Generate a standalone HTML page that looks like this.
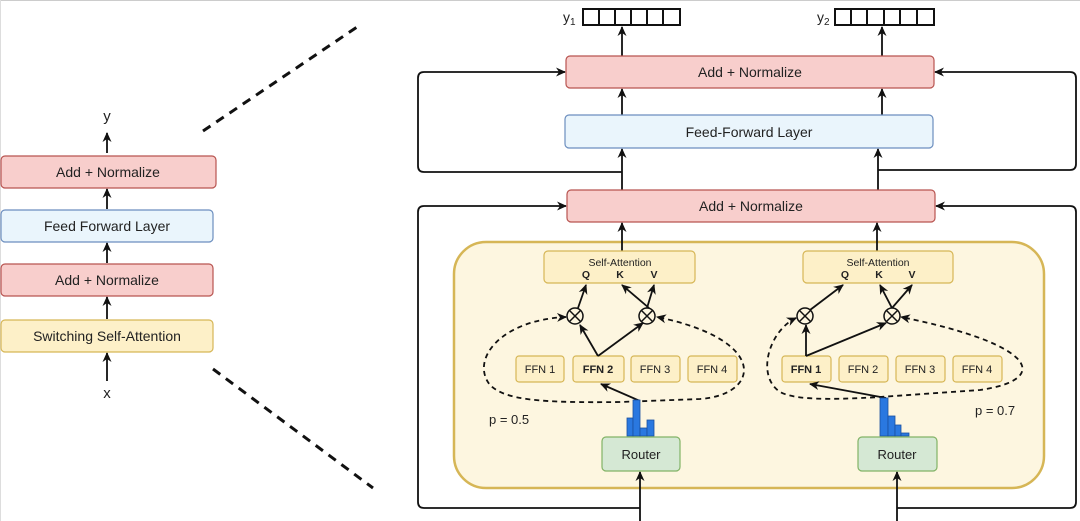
<!DOCTYPE html>
<html><head><style>body{margin:0;background:#fff}svg{display:block}text{font-family:"Liberation Sans",sans-serif;fill:#222}</style></head><body>
<svg width="1080" height="521" viewBox="0 0 1080 521" xmlns="http://www.w3.org/2000/svg">
<defs>
<marker id="a" markerWidth="12" markerHeight="12" refX="9" refY="5.5" orient="auto-start-reverse" markerUnits="userSpaceOnUse"><path d="M0,1 L10,5.5 L0,10 L3,5.5 z" fill="#111"/></marker>
</defs>
<line x1="0" y1="0.5" x2="1080" y2="0.5" stroke="#ccc"/>
<line x1="0.5" y1="0" x2="0.5" y2="521" stroke="#ddd"/>
<g stroke="#111" stroke-width="1.8" fill="none">
<line x1="107" y1="153" x2="107" y2="133" marker-end="url(#a)"/>
<line x1="107" y1="209" x2="107" y2="189" marker-end="url(#a)"/>
<line x1="107" y1="263" x2="107" y2="243" marker-end="url(#a)"/>
<line x1="107" y1="319" x2="107" y2="297" marker-end="url(#a)"/>
<line x1="107" y1="381" x2="107" y2="353" marker-end="url(#a)"/>
<line x1="203" y1="131" x2="360" y2="25" stroke-width="3" stroke-dasharray="9,7"/>
<line x1="213" y1="369" x2="373" y2="488" stroke-width="3" stroke-dasharray="9,7"/>
</g>
<rect x="1" y="156" width="215" height="32" rx="4" fill="#f8cecc" stroke="#b85450" stroke-width="1.2"/>
<text x="108" y="177" font-size="14" text-anchor="middle">Add + Normalize</text>
<rect x="1" y="210" width="212" height="32" rx="4" fill="#eaf5fc" stroke="#6c8ebf" stroke-width="1.2"/>
<text x="107" y="231" font-size="14" text-anchor="middle">Feed Forward Layer</text>
<rect x="1" y="264" width="212" height="32" rx="4" fill="#f8cecc" stroke="#b85450" stroke-width="1.2"/>
<text x="107" y="285" font-size="14" text-anchor="middle">Add + Normalize</text>
<rect x="1" y="320" width="212" height="32" rx="4" fill="#fdf0c8" stroke="#d6b656" stroke-width="1.2"/>
<text x="107" y="341" font-size="14" text-anchor="middle">Switching Self-Attention</text>
<text x="107" y="121" font-size="15" text-anchor="middle">y</text>
<text x="107" y="398" font-size="15" text-anchor="middle">x</text>

<text x="563" y="22" font-size="14">y<tspan font-size="10" dy="3">1</tspan></text>
<text x="817" y="22" font-size="14">y<tspan font-size="10" dy="3">2</tspan></text>
<g fill="none" stroke="#111" stroke-width="2">
<rect x="583" y="9" width="97" height="16"/>
<path d="M599,9v16M615,9v16M631,9v16M647,9v16M663,9v16"/>
<rect x="835" y="9" width="99" height="16"/>
<path d="M851,9v16M867,9v16M884,9v16M900,9v16M917,9v16"/>
</g>
<g stroke="#111" stroke-width="1.8" fill="none">
<line x1="622" y1="56" x2="622" y2="27" marker-end="url(#a)"/>
<line x1="882" y1="56" x2="882" y2="27" marker-end="url(#a)"/>
<path d="M622,172 H424 Q418,172 418,166 V78 Q418,72 424,72 H565" marker-end="url(#a)"/>
<path d="M878,170 H1070 Q1076,170 1076,164 V78 Q1076,72 1070,72 H935" marker-end="url(#a)"/>
<line x1="622" y1="115" x2="622" y2="89" marker-end="url(#a)"/>
<line x1="882" y1="115" x2="882" y2="89" marker-end="url(#a)"/>
<line x1="622" y1="190" x2="622" y2="149" marker-end="url(#a)"/>
<line x1="878" y1="190" x2="878" y2="149" marker-end="url(#a)"/>
<path d="M640,508 H424 Q418,508 418,502 V212 Q418,206 424,206 H566" marker-end="url(#a)"/>
<path d="M897,508 H1070 Q1076,508 1076,502 V212 Q1076,206 1070,206 H936" marker-end="url(#a)"/>
</g>
<rect x="566" y="56" width="368" height="32" rx="4" fill="#f8cecc" stroke="#b85450" stroke-width="1.2"/>
<text x="750" y="77" font-size="14" text-anchor="middle">Add + Normalize</text>
<rect x="565" y="115" width="368" height="33" rx="4" fill="#eaf5fc" stroke="#6c8ebf" stroke-width="1.2"/>
<text x="749" y="137" font-size="14" text-anchor="middle">Feed-Forward Layer</text>
<rect x="567" y="190" width="368" height="32" rx="4" fill="#f8cecc" stroke="#b85450" stroke-width="1.2"/>
<text x="751" y="211" font-size="14" text-anchor="middle">Add + Normalize</text>

<rect x="454" y="242" width="590" height="246" rx="32" fill="#fdf6e0" stroke="#d6b656" stroke-width="2.5"/>
<g stroke="#111" stroke-width="1.8" fill="none">
<line x1="622" y1="251" x2="622" y2="223" marker-end="url(#a)"/>
<line x1="877" y1="251" x2="877" y2="223" marker-end="url(#a)"/>
</g>
<rect x="544" y="251" width="151" height="32" rx="4" fill="#fdf0c8" stroke="#d6b656" stroke-width="1.2"/>
<text x="620" y="266" font-size="10.5" text-anchor="middle">Self-Attention</text>
<g font-size="10.5" font-weight="bold" text-anchor="middle"><text x="586" y="278">Q</text><text x="620" y="278">K</text><text x="654" y="278">V</text></g>
<rect x="803" y="251" width="150" height="32" rx="4" fill="#fdf0c8" stroke="#d6b656" stroke-width="1.2"/>
<text x="878" y="266" font-size="10.5" text-anchor="middle">Self-Attention</text>
<g font-size="10.5" font-weight="bold" text-anchor="middle"><text x="845" y="278">Q</text><text x="879" y="278">K</text><text x="912" y="278">V</text></g>

<g fill="#fdf0c8" stroke="#d6b656" stroke-width="1.2">
<rect x="516" y="356" width="48" height="26" rx="3"/><rect x="573" y="356" width="51" height="26" rx="3"/><rect x="631" y="356" width="49" height="26" rx="3"/><rect x="688" y="356" width="49" height="26" rx="3"/>
<rect x="782" y="356" width="49" height="26" rx="3"/><rect x="839" y="356" width="49" height="26" rx="3"/><rect x="896" y="356" width="49" height="26" rx="3"/><rect x="953" y="356" width="49" height="26" rx="3"/>
</g>
<g font-size="11" text-anchor="middle">
<text x="540" y="373">FFN 1</text><text x="598" y="373" font-weight="bold">FFN 2</text><text x="655" y="373">FFN 3</text><text x="712" y="373">FFN 4</text>
<text x="806" y="373" font-weight="bold">FFN 1</text><text x="863" y="373">FFN 2</text><text x="920" y="373">FFN 3</text><text x="977" y="373">FFN 4</text>
</g>

<g stroke="#111" stroke-width="1.8" fill="none">
<line x1="598" y1="356" x2="580" y2="325" marker-end="url(#a)"/>
<line x1="598" y1="356" x2="643" y2="323" marker-end="url(#a)"/>
<line x1="578" y1="308" x2="586" y2="285" marker-end="url(#a)"/>
<line x1="649" y1="308" x2="622" y2="285" marker-end="url(#a)"/>
<line x1="647" y1="308" x2="654" y2="285" marker-end="url(#a)"/>
<line x1="640" y1="401" x2="601" y2="384" marker-end="url(#a)"/>
<line x1="806" y1="356" x2="806" y2="325" marker-end="url(#a)"/>
<line x1="806" y1="356" x2="886" y2="323" marker-end="url(#a)"/>
<line x1="810" y1="310" x2="843" y2="285" marker-end="url(#a)"/>
<line x1="892" y1="308" x2="880" y2="285" marker-end="url(#a)"/>
<line x1="892" y1="308" x2="912" y2="285" marker-end="url(#a)"/>
<line x1="886" y1="398" x2="810" y2="384" marker-end="url(#a)"/>
<line x1="640" y1="521" x2="640" y2="472" marker-end="url(#a)"/>
<line x1="897" y1="521" x2="897" y2="472" marker-end="url(#a)"/>
<path d="M566,317 C500,320 470,360 490,385 C505,400 540,403 620,402 L700,399 C760,395 770,340 657,317" stroke-dasharray="5,4" marker-start="url(#a)" marker-end="url(#a)"/>
<path d="M796,318 C770,330 755,375 780,392 C795,400 830,400 880,397 L980,390 C1050,380 1040,345 901,317" stroke-dasharray="5,4" marker-start="url(#a)" marker-end="url(#a)"/>
</g>
<g stroke="#111" stroke-width="1.5" fill="#fdf6e0">
<circle cx="575" cy="316" r="8"/><circle cx="647" cy="316" r="8"/><circle cx="805" cy="316" r="8"/><circle cx="892" cy="316" r="8"/>
</g>
<g stroke="#111" stroke-width="1.5">
<path d="M569.5,310.5l11,11M580.5,310.5l-11,11"/><path d="M641.5,310.5l11,11M652.5,310.5l-11,11"/>
<path d="M799.5,310.5l11,11M810.5,310.5l-11,11"/><path d="M886.5,310.5l11,11M897.5,310.5l-11,11"/>
</g>
<g fill="#2a78e0" stroke="#1a4fa0" stroke-width="0.8">
<rect x="627" y="418" width="6" height="18"/><rect x="633" y="400" width="7" height="36"/><rect x="640" y="428" width="7" height="8"/><rect x="647" y="420" width="7" height="16"/>
<rect x="880" y="398" width="8" height="38"/><rect x="888" y="416" width="7" height="20"/><rect x="895" y="425" width="6" height="11"/><rect x="901" y="433" width="8" height="3"/>
</g>
<text x="489" y="424" font-size="13">p = 0.5</text>
<text x="975" y="415" font-size="13">p = 0.7</text>
<rect x="602" y="437" width="78" height="34" rx="4" fill="#d5e8d4" stroke="#82b366" stroke-width="1.2"/>
<text x="641" y="459" font-size="13" text-anchor="middle">Router</text>
<rect x="858" y="437" width="79" height="34" rx="4" fill="#d5e8d4" stroke="#82b366" stroke-width="1.2"/>
<text x="897" y="459" font-size="13" text-anchor="middle">Router</text>
</svg>
</body></html>
